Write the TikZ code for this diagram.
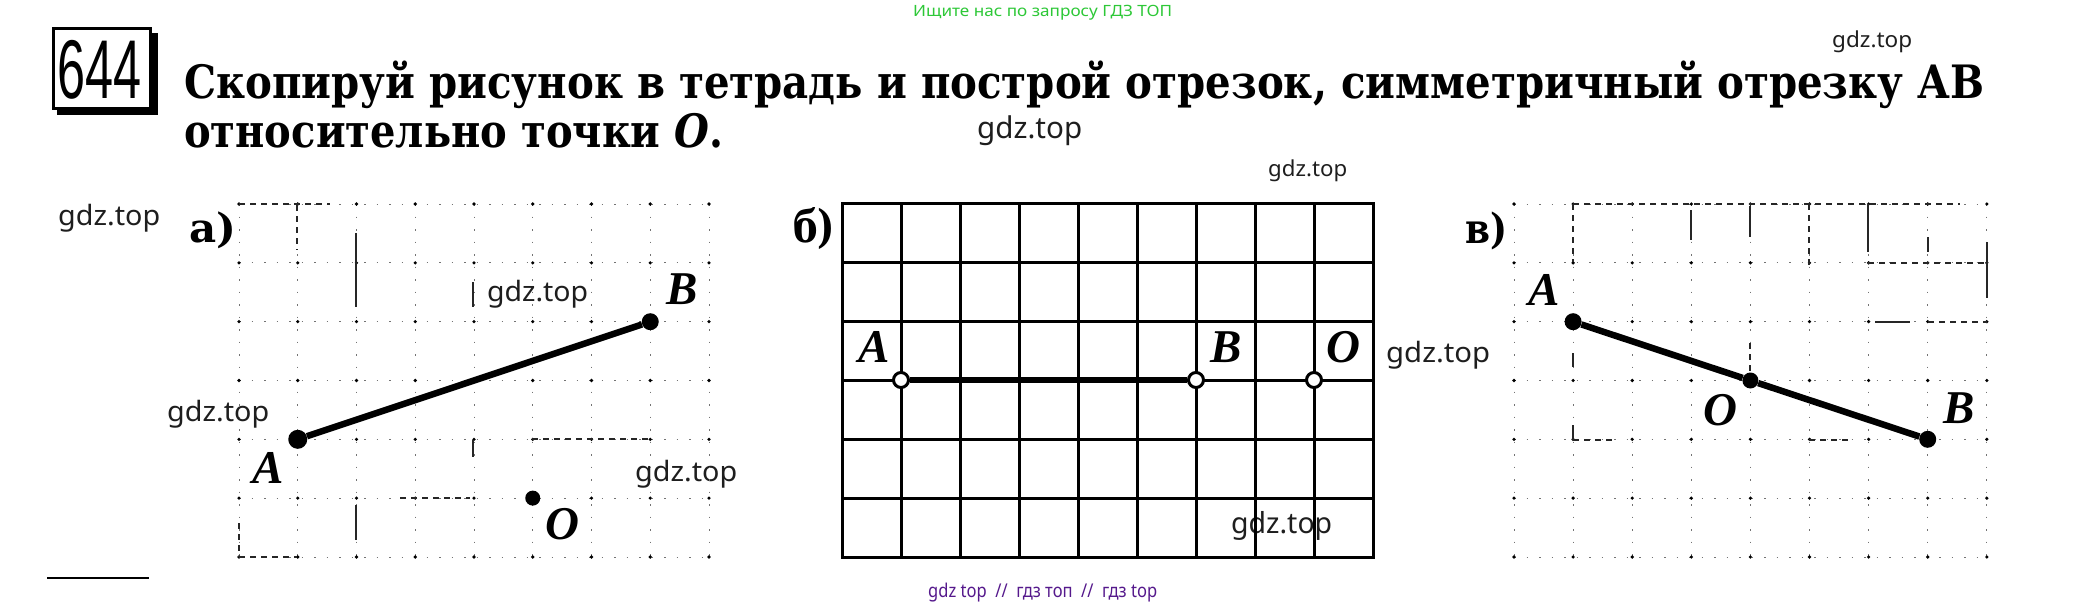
\documentclass[tikz,border=0pt]{standalone}
\usepackage{fontspec}
\usepackage{graphicx}
\setmainfont{DejaVu Serif}
\newfontfamily\labfont{Liberation Serif}
\newfontfamily\wmfont{Noto Sans}
\newfontfamily\numfont{Liberation Sans}
\definecolor{wmgreen}{RGB}{45,200,55}
\definecolor{wmpurple}{RGB}{85,25,140}
\definecolor{wmgray}{RGB}{30,30,30}
\newcommand\wmark[2]{\resizebox*{#1pt}{#2pt}{\wmfont gdz.top}}
\begin{document}
\begin{tikzpicture}[x=1pt,y=-1pt,
  wm/.style={inner sep=0pt, anchor=north west, text=wmgray},
  titleline/.style={inner sep=0pt, anchor=base west},
  lab/.style={inner sep=0pt, font=\labfont\bfseries\itshape\fontsize{47}{47}\selectfont},
  part/.style={inner sep=0pt, anchor=north west},
  fdot/.style={circle, fill=black, inner sep=0pt, minimum size=15pt},
  odot/.style={circle, draw=black, fill=white, line width=3pt, inner sep=0pt, minimum size=15pt},
  seg/.style={line width=6.5pt},
  gridsolid/.style={line width=3pt, line cap=rect},
  griddot/.style={line width=0.9pt, black!55, dash pattern=on 1.5pt off 11pt},
  gridfrag/.style={line width=1.3pt, black!85},
  gridfragd/.style={line width=1.3pt, black!85, dash pattern=on 6pt off 5pt}]
\useasboundingbox (0,0) rectangle (2087,607);
\fill[white] (0,0) rectangle (2087,607);

% ---- header ----
\node[part] (green) at (913,5) {\resizebox*{259pt}{15pt}{\wmfont\color{wmgreen}Ищите нас по запросу ГДЗ ТОП}};
\node[draw, line width=3pt, minimum width=97pt, minimum height=80pt, inner sep=0pt] (numbox) at (102,68.5) {};
\fill[black] (151.5,33) rectangle (158,115);
\fill[black] (57,109.5) rectangle (158,115);
\node[inner sep=0pt] (num) at (100,70) {\resizebox*{84pt}{59pt}{\numfont 644}};
\node[titleline] (t1) at (184,99) {\resizebox{1800pt}{\height}{\fontsize{46}{50}\selectfont\bfseries Скопируй рисунок в тетрадь и построй отрезок, симметричный отрезку АВ}};
\node[titleline] (t2) at (184,147) {\resizebox{539pt}{\height}{\fontsize{46}{50}\selectfont\bfseries относительно точки \textit{O}.}};

% ---- watermarks ----
\node[wm] (w1) at (1832,31) {\wmark{80}{22}};
\node[wm] (w2) at (977,115) {\wmark{105}{30}};
\node[wm] (w3) at (1268,160) {\wmark{79}{22}};
\node[wm] (w4) at (58,204) {\wmark{102}{28}};
\node[wm] (w5) at (487,280) {\wmark{101}{28}};
\node[wm] (w6) at (167,400) {\wmark{102}{28}};
\node[wm] (w7) at (635,460) {\wmark{102}{28}};
\node[wm] (w8) at (1386,341) {\wmark{104}{28}};
\node[wm] (w9) at (1231,511) {\wmark{101}{29}};
\node[part] (purple) at (928,583) {\resizebox*{229pt}{19pt}{\wmfont\color{wmpurple}gdz top~~//~~гдз топ~~//~~гдз top}};

% ---- part a ----
\node[part] (pa) at (189,212) {\resizebox*{47pt}{37pt}{\bfseries а)}};
\foreach \i in {0,...,8} \draw[griddot] ({239+58.75*\i},204) -- ({239+58.75*\i},557);
\foreach \j in {0,...,6} \draw[griddot] (239,{204+58.83*\j}) -- (709,{204+58.83*\j});
\foreach \i in {0,...,8} \foreach \j in {0,...,6} \fill ({239+58.75*\i},{204+58.83*\j}) circle (1.8);
\draw[gridfrag] (356,233) -- (356,307);
\draw[gridfrag] (356,505) -- (356,540);
\draw[gridfragd] (297,205) -- (297,250);
\draw[gridfragd] (239,204) -- (330,204);
\draw[gridfrag] (473,282) -- (473,307);
\draw[gridfrag] (473,440) -- (473,457);
\draw[gridfragd] (532,439) -- (650,439);
\draw[gridfragd] (400,498) -- (470,498);
\draw[gridfragd] (239,523) -- (239,557);
\draw[gridfragd] (239,557) -- (297,557);
\node[fdot, minimum size=19pt] (aA) at (297.75,439.3) {};
\node[fdot, minimum size=17pt] (aB) at (650.25,321.7) {};
\node[fdot, minimum size=15pt] (aO) at (532.75,498.1) {};
\draw[seg] (aA) -- (aB);
\node[lab] (aAl) at (268,468) {A};
\node[lab] (aBl) at (682,289) {B};
\node[lab] (aOl) at (562,524) {O};
\draw[line width=1.5pt] (47,578) -- (149,578);

% ---- part b ----
\node[part] (pb) at (793,207) {\resizebox*{42pt}{42pt}{\bfseries б)}};
\foreach \i in {0,...,9} \draw[gridsolid] ({842+59*\i},203) -- ({842+59*\i},557);
\foreach \j in {0,...,6} \draw[gridsolid] (842,{203+59*\j}) -- (1373,{203+59*\j});
\node[odot] (bA) at (901,380) {};
\node[odot] (bB) at (1196,380) {};
\node[odot] (bO) at (1314,380) {};
\draw[seg] (bA) -- (bB);
\node[lab] (bAl) at (874,347) {A};
\node[lab] (bBl) at (1226,347) {B};
\node[lab] (bOl) at (1343,347) {O};

% ---- part v ----
\node[part] (pv) at (1465,212) {\resizebox*{42pt}{38pt}{\bfseries в)}};
\foreach \i in {0,...,8} \draw[griddot] ({1514+59.1*\i},204) -- ({1514+59.1*\i},557);
\foreach \j in {0,...,6} \draw[griddot] (1514,{204+58.83*\j}) -- (1987,{204+58.83*\j});
\foreach \i in {0,...,8} \foreach \j in {0,...,6} \fill ({1514+59.1*\i},{204+58.83*\j}) circle (1.8);
\draw[gridfragd] (1573,204) -- (1573,262);
\draw[gridfragd] (1573,204) -- (1960,204);
\draw[gridfrag] (1691,210) -- (1691,240);
\draw[gridfrag] (1750,206) -- (1750,237);
\draw[gridfragd] (1809,204) -- (1809,268);
\draw[gridfrag] (1868,204) -- (1868,252);
\draw[gridfrag] (1928,237) -- (1928,252);
\draw[gridfrag] (1987,242) -- (1987,298);
\draw[gridfragd] (1868,263) -- (1987,263);
\draw[gridfrag] (1875,322) -- (1910,322);
\draw[gridfragd] (1928,322) -- (1987,322);
\draw[gridfrag] (1573,353) -- (1573,367);
\draw[gridfragd] (1750,343) -- (1750,380);
\draw[gridfrag] (1573,425) -- (1573,440);
\draw[gridfragd] (1573,440) -- (1613,440);
\draw[gridfragd] (1809,440) -- (1850,440);
\node[fdot, minimum size=17pt] (cA) at (1573.1,321.7) {};
\node[fdot, minimum size=16pt] (cO) at (1750.4,380.5) {};
\node[fdot, minimum size=17pt] (cB) at (1927.7,439.3) {};
\draw[seg] (cA) -- (cO);
\draw[seg] (cO) -- (cB);
\node[lab] (cAl) at (1544,290) {A};
\node[lab] (cOl) at (1720,410) {O};
\node[lab] (cBl) at (1959,408) {B};
\end{tikzpicture}
\end{document}
